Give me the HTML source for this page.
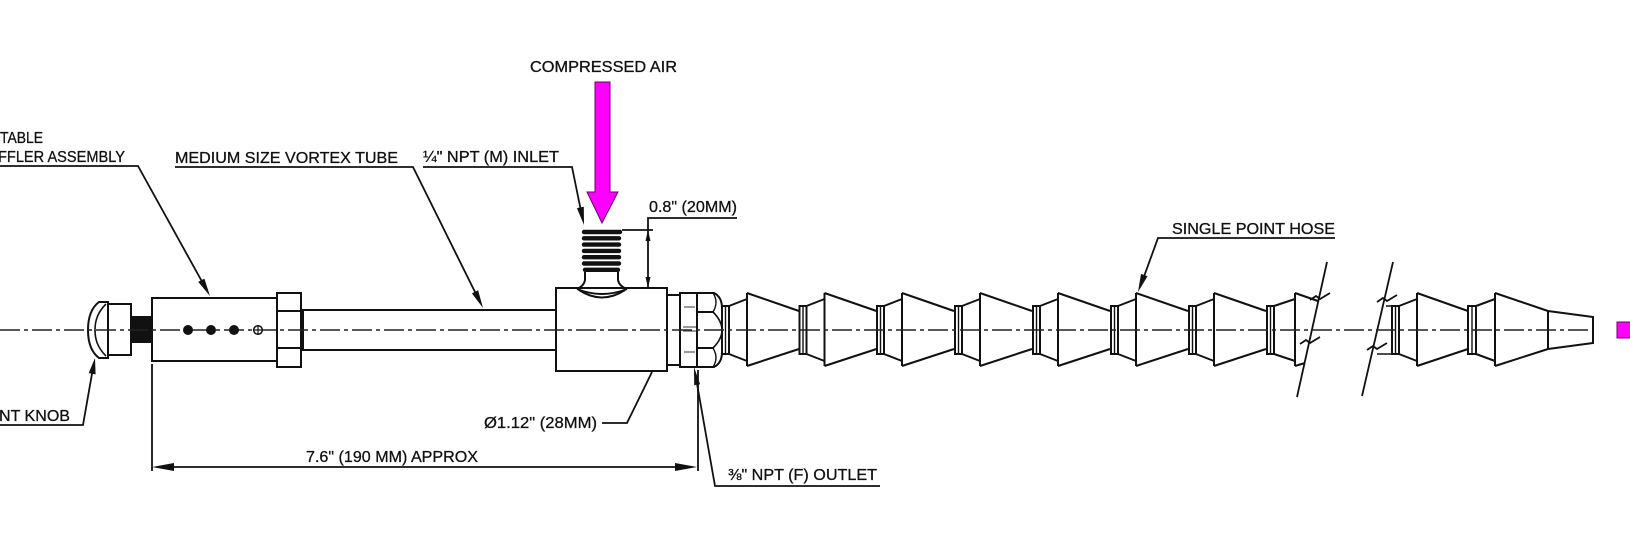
<!DOCTYPE html>
<html>
<head>
<meta charset="utf-8">
<style>
  html,body{margin:0;padding:0;background:#fff;}
  body{width:1630px;height:555px;overflow:hidden;}
  svg{display:block;}
  text{font-family:"Liberation Sans", Arial, sans-serif;font-size:16px;fill:#111;stroke:#111;stroke-width:0.3;}
</style>
</head>
<body>
<svg width="1630" height="555" viewBox="0 0 1630 555" xmlns="http://www.w3.org/2000/svg">
  <rect x="0" y="0" width="1630" height="555" fill="#fff"/>

  <g fill="none" stroke="#111" stroke-width="2" stroke-linejoin="miter">
    <!-- knob cap -->
    <path d="M108,302 L99,302 C91,308 88,318 88,330 C88,342 91,352 99,358 L108,358 Z" fill="#fff"/>
    <path d="M106,304 C98,312 95,320 95,330 C95,340 98,348 106,356" stroke-width="1.6"/>
    <!-- knob body -->
    <rect x="108" y="304" width="23" height="51" fill="#fff"/>
    <!-- knurl -->
    <rect x="131" y="317" width="21" height="25" fill="#111"/>
    <!-- muffler -->
    <rect x="152" y="298" width="125" height="63" fill="#fff"/>
    <!-- hex nut -->
    <rect x="277" y="293" width="24" height="74" fill="#fff"/>
    <line x1="277" y1="311" x2="301" y2="311"/>
    <line x1="277" y1="348" x2="301" y2="348"/>
    <line x1="302.5" y1="310" x2="302.5" y2="350" stroke-width="3"/>
    <!-- tube -->
    <line x1="301" y1="310" x2="556" y2="310"/>
    <line x1="301" y1="350" x2="556" y2="350"/>
    <!-- tee body -->
    <rect x="556" y="288" width="111" height="83" fill="#fff"/>
    <!-- neck -->
    <path d="M585,272 L585,280 Q584,286 577,289"/>
    <path d="M618,272 L618,280 Q619,286 627,289"/>
    <path d="M577,289 Q602,299 627,289" stroke-width="2"/>
    <path d="M579,290 Q602,305 625,290" stroke-width="2"/>
    <!-- spacer -->
    <rect x="667" y="295" width="13" height="70" fill="#fff"/>
    <!-- thin nut -->
    <rect x="680" y="293" width="17" height="74" fill="#fff"/>
    <line x1="684" y1="307" x2="695" y2="307" stroke-width="1.2" stroke="#555"/>
    <line x1="683" y1="327" x2="696" y2="327" stroke-width="1.2" stroke="#555"/>
    <line x1="683" y1="331" x2="696" y2="331" stroke-width="1.2" stroke="#555"/>
    <line x1="684" y1="352" x2="695" y2="352" stroke-width="1.2" stroke="#555"/>
    <!-- big nut -->
    <path d="M697,293 L714,293 Q722,297 722,308 L722,352 Q722,363 714,367 L697,367 Z" fill="#fff"/>
    <line x1="697" y1="312" x2="714" y2="312"/>
    <line x1="697" y1="348" x2="714" y2="348"/>
    <path d="M713,312 Q722,321 722,330 Q722,339 713,348" stroke-width="1.6"/>
    <path d="M713,293 Q719,302 713,312" stroke-width="1.4"/>
    <path d="M713,348 Q719,358 713,367" stroke-width="1.4"/>

    <!-- hose segments (before break) -->
    <g id="seg">
      <rect x="722" y="306" width="7" height="48" fill="#fff"/>
      <line x1="725.5" y1="306" x2="725.5" y2="354" stroke-width="1.4"/>
      <path d="M729,306 L747,299 M729,354 L747,361"/>
      <path d="M747,293 L747,366 M747,293 L799,311 M747,366 L799,349"/>
    </g>
    <use href="#seg" x="77.5"/>
    <use href="#seg" x="155"/>
    <use href="#seg" x="233"/>
    <use href="#seg" x="311"/>
    <use href="#seg" x="389"/>
    <use href="#seg" x="467"/>
    <!-- last partial before break -->
    <rect x="1267" y="306" width="7" height="48" fill="#fff"/>
    <line x1="1270.5" y1="306" x2="1270.5" y2="354" stroke-width="1.4"/>
    <path d="M1274,306 L1295,299 M1274,354 L1295,361"/>
    <path d="M1295,293 L1295,366 M1295,293 L1318,301 M1295,366 L1305,363"/>

    <!-- break lines -->
    <line x1="1327" y1="262" x2="1297" y2="397" stroke-width="1.8"/>
    <path d="M1310,300 L1316,296 L1320,299 L1330,293" stroke-width="1.8"/>
    <path d="M1300,344 L1306,340 L1310,343 L1320,337" stroke-width="1.8"/>
    <line x1="1393" y1="262" x2="1362" y2="396" stroke-width="1.8"/>
    <path d="M1377,302 L1383,298 L1387,301 L1397,295" stroke-width="1.8"/>
    <path d="M1367,350 L1373,346 L1377,349 L1387,343" stroke-width="1.8"/>

    <!-- after break -->
    <path d="M1386,306 L1392,306 M1377,354 L1392,354" stroke-width="1.6"/>
    <rect x="1392" y="306" width="7" height="48" fill="#fff"/>
    <line x1="1395.5" y1="306" x2="1395.5" y2="354" stroke-width="1.4"/>
    <path d="M1399,306 L1417,299 M1399,354 L1417,361"/>
    <path d="M1417,293 L1417,366 M1417,293 L1468,311 M1417,366 L1468,349"/>
    <rect x="1468" y="306" width="8" height="48" fill="#fff"/>
    <line x1="1472" y1="306" x2="1472" y2="354" stroke-width="1.4"/>
    <path d="M1476,306 L1495,299 M1476,354 L1495,361"/>
    <path d="M1495,293 L1495,366 M1495,293 L1548,311 M1495,366 L1548,349"/>
    <path d="M1548,311 L1548,349 M1548,311 L1593,317 L1593,343 L1548,349"/>
  </g>

  <!-- threads -->
  <g stroke="#111" stroke-width="4.4" stroke-linecap="round">
    <line x1="584" y1="232" x2="620" y2="232"/>
    <line x1="584" y1="238.3" x2="619" y2="238.3"/>
    <line x1="584" y1="244.6" x2="619" y2="244.6"/>
    <line x1="584" y1="250.9" x2="619" y2="250.9"/>
    <line x1="584" y1="257.2" x2="619" y2="257.2"/>
    <line x1="584" y1="263.5" x2="619" y2="263.5"/>
    <line x1="585" y1="269.8" x2="618" y2="269.8"/>
  </g>

  <!-- centerline -->
  <line x1="0" y1="330" x2="1588" y2="330" stroke="#222" stroke-width="1.5" stroke-dasharray="20 4 4 4"/>

  <!-- muffler holes -->
  <g fill="#111">
    <circle cx="188" cy="330" r="5"/>
    <circle cx="211" cy="330" r="5"/>
    <circle cx="234" cy="330" r="5"/>
  </g>
  <circle cx="258" cy="330" r="4.3" fill="#fff" stroke="#111" stroke-width="1.5"/>
  <line x1="254" y1="330" x2="262" y2="330" stroke="#111" stroke-width="1.2"/>
  <line x1="258" y1="326" x2="258" y2="334" stroke="#111" stroke-width="1.2"/>

  <!-- pink arrow -->
  <polygon points="595,82 610,82 610,192 618,192 602,223 587,192 595,192" fill="#ff00ff" stroke="#6a006a" stroke-width="1"/>
  <!-- pink square -->
  <rect x="1617" y="322" width="16" height="16" fill="#ff00ff" stroke="#6a006a" stroke-width="1"/>

  <!-- leaders & dimension lines -->
  <g fill="none" stroke="#111" stroke-width="1.8">
    <polyline points="0,166 138,166 205,287"/>
    <polyline points="0,425 83,425 93,368"/>
    <polyline points="175,167 413,167 477,296"/>
    <polyline points="423,167 572,167 581,211"/>
    <polyline points="737,218 648,218 648,288"/>
    <line x1="622" y1="230" x2="653" y2="230"/>
    <polyline points="1335,238 1158,238 1142,282"/>
    <polyline points="602,423 627,423 652,372"/>
    <line x1="152" y1="364" x2="152" y2="471"/>
    <line x1="698" y1="370" x2="698" y2="471"/>
    <line x1="160" y1="467" x2="690" y2="467"/>
    <polyline points="880,486 715,486 696,378"/>
  </g>
  <g fill="#111" stroke="none">
    <polygon points="210,296 198.2,281.9 204.4,278.6"/>
    <polygon points="95,358 95.6,374.4 88.7,373.1"/>
    <polygon points="483,308 471.9,293.4 478.1,290.3"/>
    <polygon points="584,225 576.9,208.1 583.8,206.7"/>
    <polygon points="648,230 645.5,241 650.5,241"/>
    <polygon points="648,288 645.5,277 650.5,277"/>
    <polygon points="1138,292 1141,273.9 1147.5,276.3"/>
    <polygon points="152,467 174,463 174,471"/>
    <polygon points="697,467 675,463 675,471"/>
    <polygon points="694,367 700.1,384.2 694.2,385.3"/>
  </g>

  <!-- labels -->
  <text x="530" y="72" textLength="147" lengthAdjust="spacingAndGlyphs">COMPRESSED AIR</text>
  <text x="0" y="143" textLength="43" lengthAdjust="spacingAndGlyphs">TABLE</text>
  <text x="-2" y="162" textLength="127" lengthAdjust="spacingAndGlyphs">FFLER ASSEMBLY</text>
  <text x="175" y="163" textLength="223" lengthAdjust="spacingAndGlyphs">MEDIUM SIZE VORTEX TUBE</text>
  <text x="423" y="162" textLength="136" lengthAdjust="spacingAndGlyphs">¼" NPT (M) INLET</text>
  <text x="649" y="212" textLength="88" lengthAdjust="spacingAndGlyphs">0.8" (20MM)</text>
  <text x="1172" y="234" textLength="163" lengthAdjust="spacingAndGlyphs">SINGLE POINT HOSE</text>
  <text x="-1" y="421" textLength="71" lengthAdjust="spacingAndGlyphs">NT KNOB</text>
  <text x="484" y="428" textLength="113" lengthAdjust="spacingAndGlyphs">Ø1.12" (28MM)</text>
  <text x="306" y="462" textLength="172" lengthAdjust="spacingAndGlyphs">7.6" (190 MM) APPROX</text>
  <text x="728" y="480" textLength="149" lengthAdjust="spacingAndGlyphs">⅜" NPT (F) OUTLET</text>
</svg>
</body>
</html>
